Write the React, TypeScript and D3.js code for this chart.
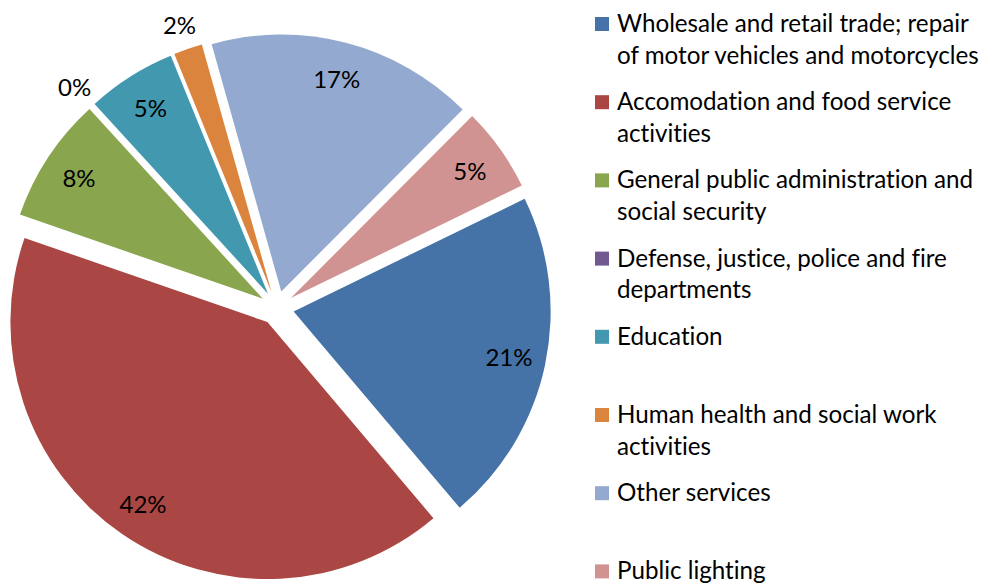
import React from "react";
import * as d3 from "d3";

const categories = [
  "Wholesale and retail trade; repair of motor vehicles and motorcycles",
  "Accomodation and food service activities",
  "General public administration and social security",
  "Defense, justice, police and fire departments",
  "Education",
  "Human health and social work activities",
  "Other services",
  "Public lighting",
];
const legendLines = [
  ["Wholesale and retail trade; repair", "of motor vehicles and motorcycles"],
  ["Accomodation and food service", "activities"],
  ["General public administration and", "social security"],
  ["Defense, justice, police and fire", "departments"],
  ["Education"],
  ["Human health and social work", "activities"],
  ["Other services"],
  ["Public lighting"],
];
const values = [21.0, 41.4, 7.9, 0, 5.6, 1.8, 16.8, 5.3];
const labels = ["21%", "42%", "8%", "0%", "5%", "2%", "17%", "5%"];
const colors = ["#4572A7", "#AA4643", "#89A54E", "#71588F", "#4198AF", "#DB843D", "#93A9CF", "#D19392"];

const W = 989;
const H = 585;
const FONT = "Lato, 'Noto Sans', sans-serif";

export default function App() {
  const cx = 277;
  const cy = 308;
  const r = 257;
  const explode = 17;
  const start = (64 * Math.PI) / 180;
  const pie = d3
    .pie<number>()
    .sort(null)
    .value((d) => d)
    .startAngle(start)
    .endAngle(start + 2 * Math.PI);
  const arcs = pie(values);
  const arcGen = d3.arc<d3.PieArcDatum<number>>().innerRadius(0).outerRadius(r);

  const legendX = 595;
  const legendTop = 32;
  const legendStep = 78.2;
  const lineH = 31.5;

  return (
    <svg
      width={W}
      height={H}
      style={{ position: "absolute", left: 0, top: 0, background: "#fff", fontVariantLigatures: "none" }}
      fontFamily={FONT}
    >
      <g>
        {arcs.map((a, i) => {
          const mid = (a.startAngle + a.endAngle) / 2;
          const dx = explode * Math.sin(mid);
          const dy = -explode * Math.cos(mid);
          return (
            <path
              key={i}
              d={arcGen(a) || ""}
              fill={colors[i]}
              transform={`translate(${cx + dx},${cy + dy})`}
            />
          );
        })}
        {arcs.map((a, i) => {
          const mid = (a.startAngle + a.endAngle) / 2;
          const dist = values[i] < 3 ? 300 : 237;
          const x = cx + dist * Math.sin(mid);
          const y = cy - dist * Math.cos(mid);
          return (
            <text
              key={i}
              x={x}
              y={y}
              textAnchor="middle"
              dominantBaseline="central"
              fontSize={24}
              fill="#000"
            >
              {labels[i]}
            </text>
          );
        })}
      </g>
      <g>
        {categories.map((c, i) => {
          const base = legendTop + i * legendStep;
          return (
            <g key={c}>
              <rect x={legendX} y={base - 15} width={14} height={14} fill={colors[i]} />
              <text x={617} y={base} fontSize={24.2} fill="#000">
                {legendLines[i].map((ln, j) => (
                  <tspan key={j} x={617} y={base + j * lineH}>
                    {ln}
                  </tspan>
                ))}
              </text>
            </g>
          );
        })}
      </g>
    </svg>
  );
}
